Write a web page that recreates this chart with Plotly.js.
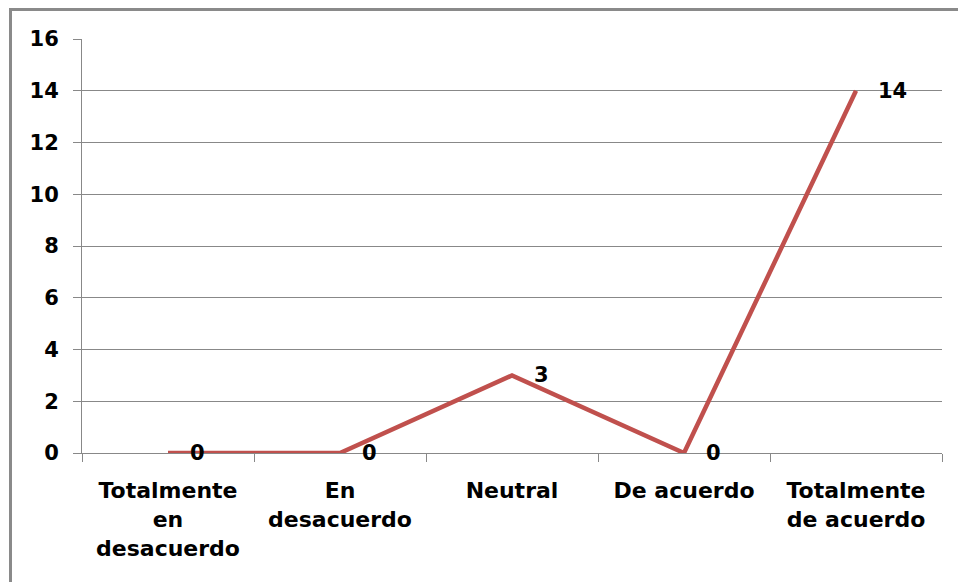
<!DOCTYPE html>
<html>
<head>
<meta charset="utf-8">
<script src="https://cdn.plot.ly/plotly-3.0.1.min.js"></script>
<style>
  html, body { margin: 0; padding: 0; background: #fff; }
  #wrap { position: relative; width: 958px; height: 582px; overflow: hidden; }
  #chart { width: 958px; height: 582px; }
  #frame { position: absolute; left: 9px; top: 8px; width: 1000px; height: 1000px;
           border-left: 3px solid #8a8a8a; border-top: 3px solid #8a8a8a; pointer-events: none; }
</style>
</head>
<body>
<div id="wrap"><div id="chart"></div><div id="frame"></div></div>
<script>
const categories = ["Totalmente<br>en<br>desacuerdo", "En<br>desacuerdo", "Neutral", "De acuerdo", "Totalmente<br>de acuerdo"];
const values = [0, 0, 3, 0, 14];
const yTicks = [0, 2, 4, 6, 8, 10, 12, 14, 16];

const font = "DejaVu Sans, Arial, sans-serif";

const trace = {
  x: categories,
  y: values,
  type: "scatter",
  mode: "lines",
  line: { color: "#C0504D", width: 4.5 },
  cliponaxis: false,
  hoverinfo: "none"
};

const annotations = categories.map((c, i) => ({
  x: c, y: values[i], xref: "x", yref: "y",
  text: String(values[i]), showarrow: false,
  xanchor: "left", yanchor: "middle", xshift: 20,
  font: { family: font, size: 21, color: "#000", weight: "bold" }
}));

const layout = {
  width: 958, height: 582,
  margin: { l: 82, r: 16, t: 39, b: 129 },
  paper_bgcolor: "#fff", plot_bgcolor: "#fff",
  showlegend: false,
  xaxis: {
    type: "category",
    range: [-0.5, categories.length - 0.5],
    tickson: "boundaries",
    ticks: "outside", ticklen: 8, tickcolor: "#888", tickwidth: 1,
    showline: true, linecolor: "#888", linewidth: 1,
    showgrid: false, zeroline: false,
    ticklabelstandoff: 18,
    tickfont: { family: font, size: 22, color: "#000", weight: "bold" },
    fixedrange: true
  },
  yaxis: {
    range: [0, 16],
    tickvals: yTicks,
    ticktext: yTicks.map(String),
    ticks: "outside", ticklen: 8, tickcolor: "#888", tickwidth: 1,
    showline: true, linecolor: "#888", linewidth: 1,
    showgrid: true, gridcolor: "#888", gridwidth: 1,
    zeroline: false,
    ticklabelstandoff: 10,
    tickfont: { family: font, size: 21, color: "#000", weight: "bold" },
    fixedrange: true
  },
  annotations: annotations
};

Plotly.newPlot("chart", [trace], layout, { displayModeBar: false, staticPlot: true });
</script>
</body>
</html>
